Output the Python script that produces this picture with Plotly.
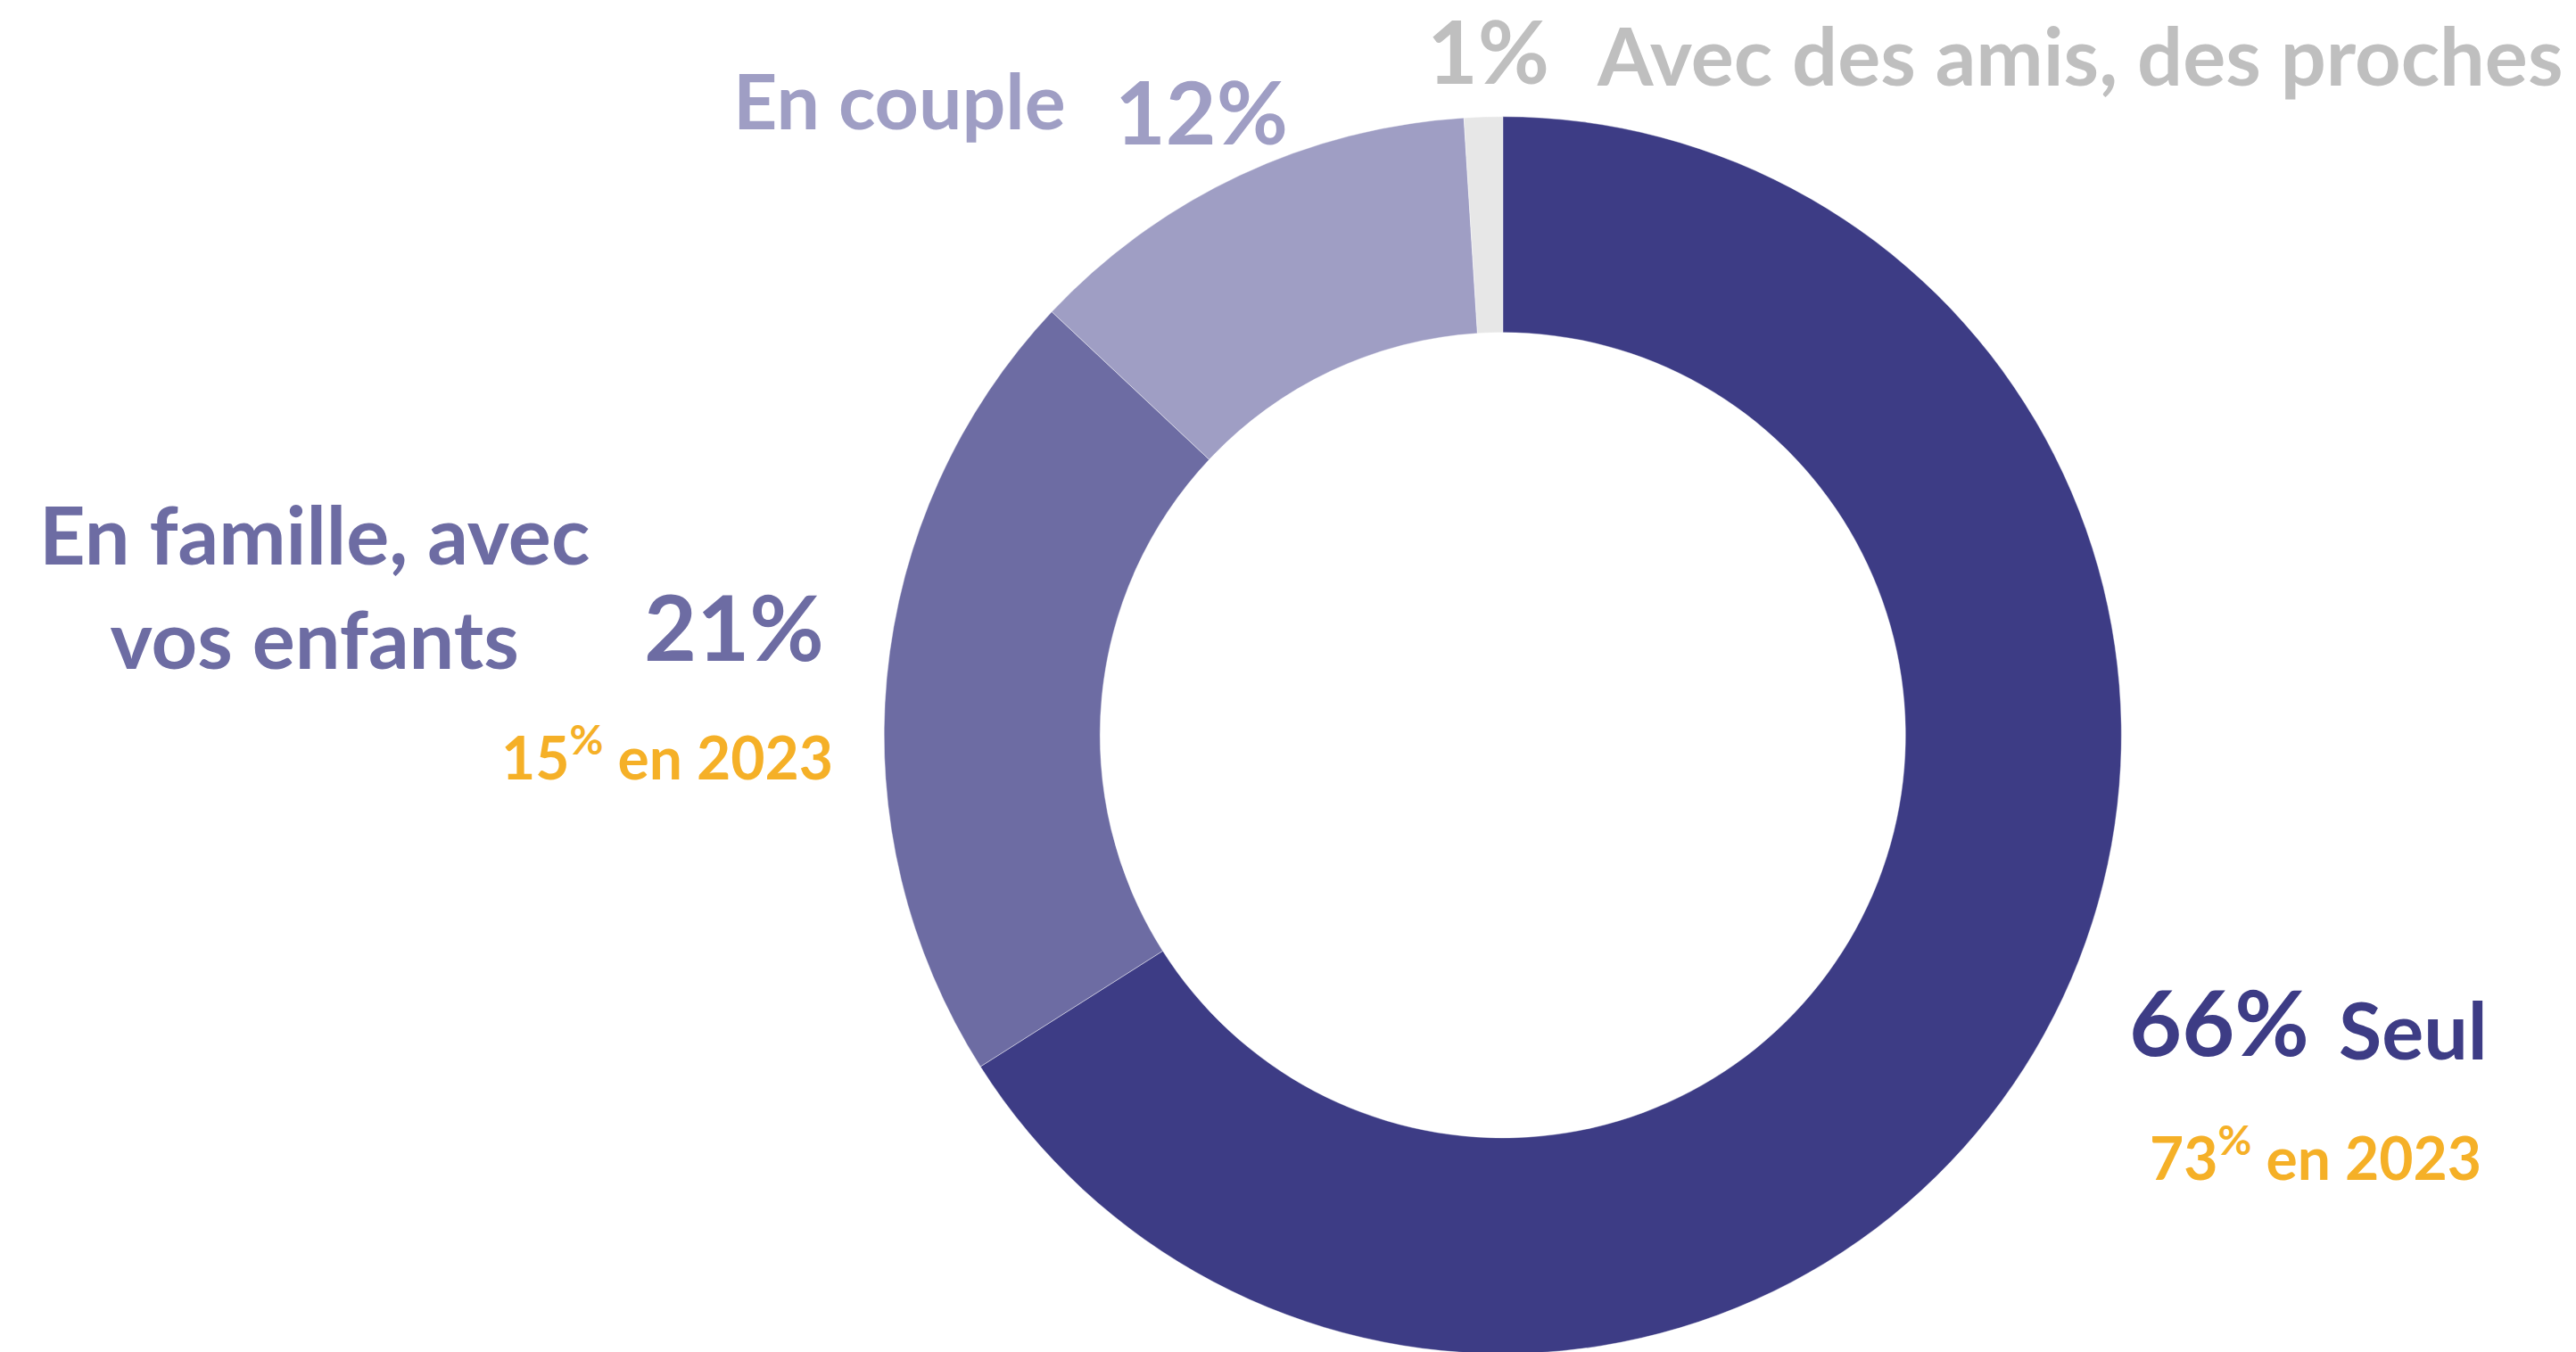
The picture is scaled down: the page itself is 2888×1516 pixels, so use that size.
import plotly.graph_objects as go

# Data
labels = ["Seul", "En famille, avec<br>vos enfants", "En couple", "Avec des amis, des proches"]
values = [66, 21, 12, 1]
values_2023 = {"Seul": 73, "En famille, avec<br>vos enfants": 15}
colors = ["#3D3C85", "#6D6CA3", "#9F9EC4", "#E7E7E7"]
text_colors = ["#3D3C85", "#6D6CA3", "#9F9EC4", "#BFBFBF"]
ORANGE = "#F5B027"

W, H = 2888, 1516
FONT = "Lato"


def px(x, y):
    return x / W, 1 - y / H


fig = go.Figure()

fig.add_trace(go.Pie(
    labels=labels,
    values=values,
    marker=dict(colors=colors, line=dict(color="rgba(255,255,255,0.4)", width=1)),
    hole=0.651,
    sort=False,
    direction="clockwise",
    rotation=0,
    textinfo="none",
    hoverinfo="label+percent",
    showlegend=False,
    domain=dict(x=[0.3403, 0.8209], y=[0.004, 0.919]),
))


def note(text, x, y, size, color, xanchor="left", align="left"):
    ax, ay = px(x, y)
    fig.add_annotation(
        text=text, x=ax, y=ay, xref="paper", yref="paper",
        xanchor=xanchor, yanchor="middle", align=align, showarrow=False,
        font=dict(family=FONT, size=size, color=color, weight=700),
    )


# Seul
note(f"{values[0]}%", 2377, 1136, 102, text_colors[0])
note(labels[0], 2612, 1146, 88, text_colors[0])
note(f"{values_2023[labels[0]]}<sup>%</sup> en 2023", 2400, 1285, 66, ORANGE)

# En famille
note(labels[1], 344, 648, 90, text_colors[1], xanchor="center", align="center")
note(f"{values[1]}%", 712, 693, 102, text_colors[1])
note(f"{values_2023[labels[1]]}<sup>%</sup> en 2023", 552, 836, 66, ORANGE)

# En couple
note(labels[2], 812, 104, 86, text_colors[2])
note(f"{values[2]}%", 1240, 116, 98, text_colors[2])

# Avec des amis
note(f"{values[3]}%", 1590, 48, 98, text_colors[3])
note(labels[3], 1780, 53, 90, text_colors[3])

fig.update_layout(
    width=W, height=H,
    margin=dict(l=0, r=0, t=0, b=0),
    paper_bgcolor="white",
    plot_bgcolor="white",
    font=dict(family=FONT),
)

fig.write_html("out.html")
